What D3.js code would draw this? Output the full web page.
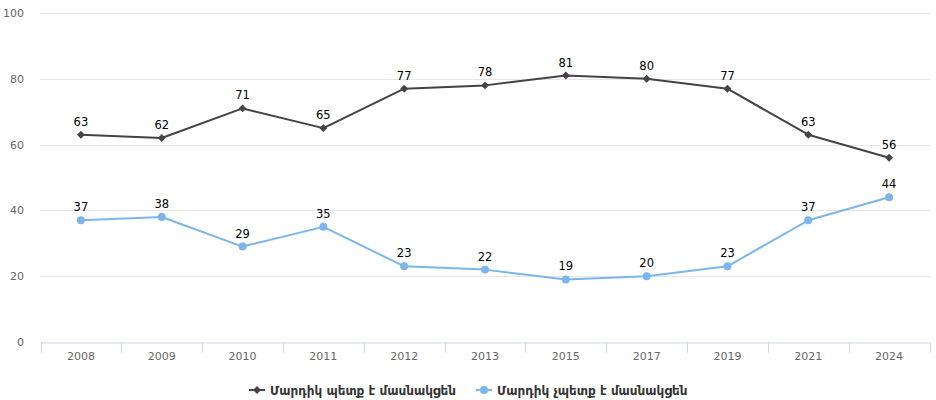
<!DOCTYPE html>
<html><head><meta charset="utf-8">
<script src="https://cdn.jsdelivr.net/npm/d3@7"></script>
<style>
body{margin:0;background:#fff;}
svg{display:block;font-family:"DejaVu Sans",Verdana,sans-serif;}
</style></head>
<body><svg id="c" width="936" height="400"></svg>
<script>
const categories = ["2008","2009","2010","2011","2012","2013","2015","2017","2019","2021","2024"];
const seriesNames = ["Մարդիկ պետք է մասնակցեն","Մարդիկ չպետք է մասնակցեն"];
const seriesA = [63,62,71,65,77,78,81,80,77,63,56];
const seriesB = [37,38,29,35,23,22,19,20,23,37,44];
const yTicks = [0,20,40,60,80,100];
const colors = ["#434348","#7cb5ec"];

const svg = d3.select("#c");
const x = d3.scaleBand().domain(categories).range([40.5, 929.5]);
const y = d3.scaleLinear().domain([0,100]).range([342,13]);

// grid
svg.append("g").selectAll("line").data(yTicks.filter(d=>d>0)).join("line")
  .attr("x1",40).attr("x2",930)
  .attr("y1",d=>Math.round(y(d))+0.5).attr("y2",d=>Math.round(y(d))+0.5)
  .attr("stroke","#e6e6e6").attr("stroke-width",1);

// y labels
const ya = svg.append("g").attr("transform","translate(24,0)")
  .call(d3.axisLeft(y).tickValues(yTicks).tickSize(0).tickPadding(0));
ya.select(".domain").remove();
ya.selectAll("text").attr("fill","#666").attr("font-size","11px").attr("font-family","DejaVu Sans, Verdana, sans-serif").attr("dy","0.32em");

// x axis
const xa = svg.append("g").attr("transform",`translate(0,${Math.round(y(0))+0.5})`)
  .call(d3.axisBottom(x).tickSize(0).tickPadding(10));
xa.select(".domain").attr("stroke","#ccd6eb");
xa.selectAll("text").attr("fill","#666").attr("font-size","11px").attr("font-family","DejaVu Sans, Verdana, sans-serif");
const bounds = categories.map(c=>x(c)).concat([x(categories[categories.length-1])+x.bandwidth()]);
xa.append("g").selectAll("line").data(bounds).join("line")
  .attr("x1",d=>Math.round(d)+0.5).attr("x2",d=>Math.round(d)+0.5)
  .attr("y1",0).attr("y2",10).attr("stroke","#ccd6eb");

const cx = c => x(c)+x.bandwidth()/2;
const line = d3.line().x((d,i)=>cx(categories[i])).y(d=>y(d));

function drawSeries(vals, color, shape){
  const g = svg.append("g");
  g.append("path").datum(vals).attr("d",line).attr("fill","none")
    .attr("stroke",color).attr("stroke-width",2).attr("stroke-linejoin","round");
  const sym = d3.symbol().type(shape==="diamond"?d3.symbolDiamond2:d3.symbolCircle).size(shape==="diamond"?40:50);
  g.selectAll("path.m").data(vals).join("path").attr("class","m")
    .attr("d",sym).attr("fill",color)
    .attr("transform",(d,i)=>`translate(${cx(categories[i])},${y(d)})`);
  g.selectAll("text").data(vals).join("text")
    .attr("x",(d,i)=>cx(categories[i])).attr("y",d=>y(d)-9)
    .attr("text-anchor","middle").attr("fill","#000").attr("font-size","11.5px")
    .text(d=>d);
}
drawSeries(seriesA, colors[0], "diamond");
drawSeries(seriesB, colors[1], "circle");

// legend
const lg = svg.append("g").attr("font-size","12px").attr("font-weight","bold").attr("fill","#333");
const items = [{x:249, name:seriesNames[0], c:colors[0], s:"diamond"},{x:476, name:seriesNames[1], c:colors[1], s:"circle"}];
items.forEach(it=>{
  const gi = lg.append("g").attr("transform",`translate(${it.x},390)`);
  gi.append("line").attr("x1",0).attr("x2",16).attr("y1",0).attr("y2",0).attr("stroke",it.c).attr("stroke-width",2);
  gi.append("path").attr("d",d3.symbol().type(it.s==="diamond"?d3.symbolDiamond2:d3.symbolCircle).size(it.s==="diamond"?40:50))
    .attr("transform","translate(8,0)").attr("fill",it.c);
  gi.append("text").attr("x",21).attr("y",4.5).attr("fill","#333").text(it.name);
});
</script></body></html>
